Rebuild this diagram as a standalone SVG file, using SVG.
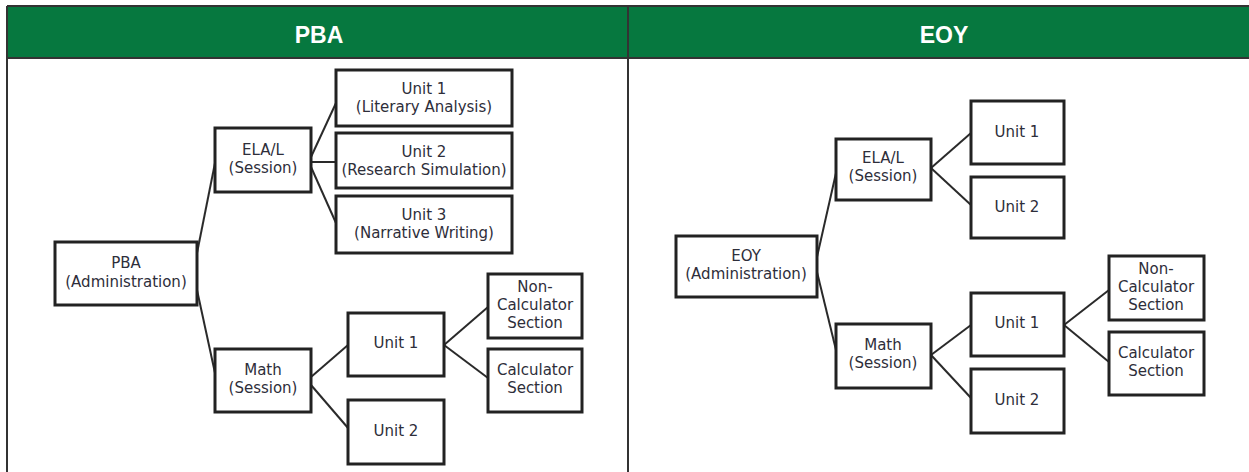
<svg xmlns="http://www.w3.org/2000/svg" width="1249" height="472" viewBox="0 0 1249 472">
<style>
.hdr{fill:#06783f}
.tbl{stroke:#333;stroke-width:2;fill:none}
.ht{font-family:"Liberation Sans",Arial,sans-serif;font-weight:bold;font-size:23px;fill:#fff;text-anchor:middle}
.box{fill:#fff;stroke:#222;stroke-width:3}
.t{font-family:"DejaVu Sans",Verdana,sans-serif;font-size:15px;fill:#2e2e3a;text-anchor:middle}
.c line{stroke:#2a2a2a;stroke-width:2}
</style>
<rect width="1249" height="472" fill="#fff"/>
<g id="table">
<rect class="hdr" x="7" y="6" width="1244" height="52"/>
<line class="tbl" x1="7" y1="6" x2="1249" y2="6"/>
<line class="tbl" x1="7" y1="58" x2="1249" y2="58"/>
<line class="tbl" x1="7" y1="6" x2="7" y2="472"/>
<line class="tbl" x1="628" y1="6" x2="628" y2="472"/>
<text class="ht" x="319" y="43">PBA</text>
<text class="ht" x="944" y="43">EOY</text>
</g>
<g id="connectors" class="c">
<line x1="197" y1="253" x2="215" y2="163"/>
<line x1="197" y1="290" x2="215" y2="373"/>
<line x1="311" y1="157" x2="336" y2="103"/>
<line x1="311" y1="162" x2="336" y2="162"/>
<line x1="311" y1="167" x2="336" y2="223"/>
<line x1="311" y1="377" x2="348" y2="345"/>
<line x1="311" y1="385" x2="348" y2="428"/>
<line x1="444" y1="345" x2="488" y2="307"/>
<line x1="444" y1="345" x2="488" y2="378"/>
<line x1="817" y1="257" x2="836" y2="173"/>
<line x1="817" y1="272" x2="836" y2="350"/>
<line x1="931" y1="168" x2="971" y2="133"/>
<line x1="931" y1="168" x2="971" y2="205"/>
<line x1="931" y1="355" x2="971" y2="325"/>
<line x1="931" y1="355" x2="971" y2="398"/>
<line x1="1064" y1="325" x2="1109" y2="290"/>
<line x1="1064" y1="325" x2="1109" y2="362"/>
</g>
<g id="pba-admin"><rect class="box" x="55" y="242" width="142" height="63"/><text class="t" x="126" y="268">PBA</text><text class="t" x="126" y="287">(Administration)</text></g>
<g id="pba-ela"><rect class="box" x="215" y="128" width="96" height="64"/><text class="t" x="263" y="155">ELA/L</text><text class="t" x="263" y="173">(Session)</text></g>
<g id="pba-ela-u1"><rect class="box" x="336" y="70" width="176" height="56"/><text class="t" x="424" y="94">Unit 1</text><text class="t" x="424" y="112">(Literary Analysis)</text></g>
<g id="pba-ela-u2"><rect class="box" x="336" y="133" width="176" height="55"/><text class="t" x="424" y="157">Unit 2</text><text class="t" x="424" y="175">(Research Simulation)</text></g>
<g id="pba-ela-u3"><rect class="box" x="336" y="196" width="176" height="57"/><text class="t" x="424" y="220">Unit 3</text><text class="t" x="424" y="238">(Narrative Writing)</text></g>
<g id="pba-math"><rect class="box" x="215" y="349" width="96" height="63"/><text class="t" x="263" y="375">Math</text><text class="t" x="263" y="393">(Session)</text></g>
<g id="pba-math-u1"><rect class="box" x="348" y="313" width="96" height="63"/><text class="t" x="396" y="348">Unit 1</text></g>
<g id="pba-math-u2"><rect class="box" x="348" y="400" width="96" height="64"/><text class="t" x="396" y="436">Unit 2</text></g>
<g id="pba-noncalc"><rect class="box" x="488" y="274" width="94" height="64"/><text class="t" x="535" y="292">Non-</text><text class="t" x="535" y="310">Calculator</text><text class="t" x="535" y="328">Section</text></g>
<g id="pba-calc"><rect class="box" x="488" y="349" width="94" height="63"/><text class="t" x="535" y="375">Calculator</text><text class="t" x="535" y="393">Section</text></g>
<g id="eoy-admin"><rect class="box" x="676" y="236" width="141" height="61"/><text class="t" x="746" y="261">EOY</text><text class="t" x="746" y="279">(Administration)</text></g>
<g id="eoy-ela"><rect class="box" x="836" y="139" width="95" height="61"/><text class="t" x="883" y="163">ELA/L</text><text class="t" x="883" y="181">(Session)</text></g>
<g id="eoy-ela-u1"><rect class="box" x="971" y="101" width="93" height="63"/><text class="t" x="1017" y="137">Unit 1</text></g>
<g id="eoy-ela-u2"><rect class="box" x="971" y="177" width="93" height="61"/><text class="t" x="1017" y="212">Unit 2</text></g>
<g id="eoy-math"><rect class="box" x="836" y="324" width="95" height="64"/><text class="t" x="883" y="350">Math</text><text class="t" x="883" y="368">(Session)</text></g>
<g id="eoy-math-u1"><rect class="box" x="971" y="293" width="93" height="63"/><text class="t" x="1017" y="328">Unit 1</text></g>
<g id="eoy-math-u2"><rect class="box" x="971" y="369" width="93" height="64"/><text class="t" x="1017" y="405">Unit 2</text></g>
<g id="eoy-noncalc"><rect class="box" x="1109" y="256" width="95" height="64"/><text class="t" x="1156" y="274">Non-</text><text class="t" x="1156" y="292">Calculator</text><text class="t" x="1156" y="310">Section</text></g>
<g id="eoy-calc"><rect class="box" x="1109" y="332" width="95" height="63"/><text class="t" x="1156" y="358">Calculator</text><text class="t" x="1156" y="376">Section</text></g>
</svg>
